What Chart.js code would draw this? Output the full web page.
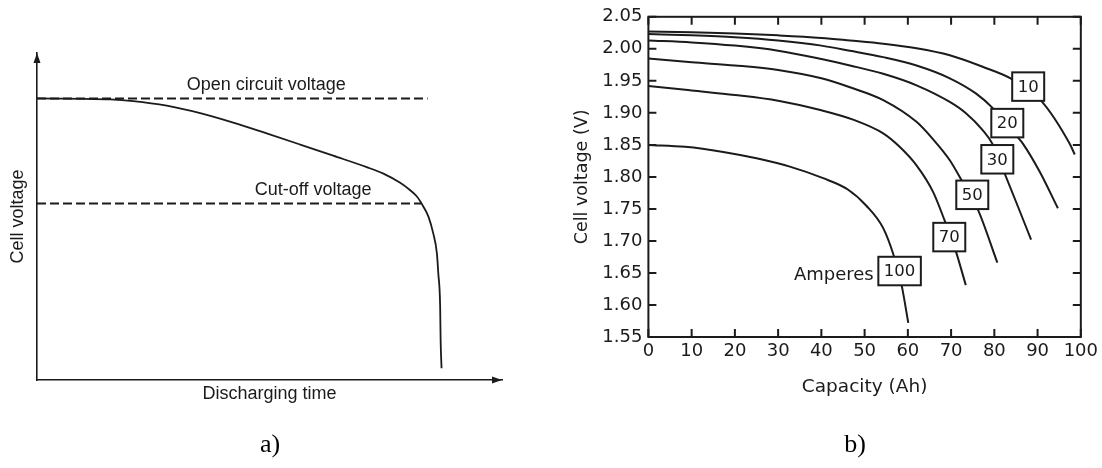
<!DOCTYPE html>
<html><head><meta charset="utf-8">
<script src="https://cdn.jsdelivr.net/npm/chart.js@4.4.1/dist/chart.umd.min.js"></script>
<style>
html,body{margin:0;padding:0;background:#fff;width:1102px;height:468px;overflow:hidden;}
#wa{position:absolute;left:0;top:0;width:540px;height:468px;}
#wb{position:absolute;left:545px;top:0;width:557px;height:468px;}
.cap{position:absolute;top:431px;font-family:"Liberation Serif","Times New Roman",serif;font-size:26px;line-height:1;color:#000;transform:translateX(-50%);}
</style></head><body>
<div id="wa"><canvas id="ca" width="540" height="468"></canvas></div>
<div id="wb"><canvas id="cb" width="557" height="468"></canvas></div>
<div class="cap" style="left:270px">a)</div>
<div class="cap" style="left:855px">b)</div>
<script>
// ---------- data: chart a) (arbitrary units) ----------
const timeA = [0, 15.7, 20.7, 27.9, 35.1, 42.2, 49.4, 56.6, 63.7, 70.9, 74.5, 78.1, 80.2, 81.7, 83.1, 84.2, 85.2, 86.0, 86.3, 86.7, 86.8, 87.0];
const voltA = [86.1, 85.8, 85.3, 83.9, 81.6, 78.7, 75.4, 72.0, 68.6, 65.1, 63.1, 60.3, 58.1, 56.1, 53.0, 49.9, 44.9, 38.7, 32.6, 22.4, 12.2, 3.6];
const ocvX = [0, 84.0], ocvY = [86.1, 86.1];
const cutX = [0, 82.7], cutY = [54.0, 54.0];
const notesA = ['Open circuit voltage', 'Cut-off voltage'];
const notesAX = [49.3, 59.4];
const notesAY = [88.7, 56.6];

// ---------- data: chart b) ----------
const capTicks = [0, 10, 20, 30, 40, 50, 60, 70, 80, 90, 100];
const voltTicks = [1.55, 1.60, 1.65, 1.70, 1.75, 1.80, 1.85, 1.90, 1.95, 2.00, 2.05];
const currents = ['10', '20', '30', '50', '70', '100'];
const cap10 = [0, 10, 20, 30, 40, 46.6, 54.3, 62.0, 69.7, 77.3, 84.3, 90.8, 97.4, 98.6];
const volt10 = [2.027, 2.026, 2.024, 2.021, 2.017, 2.013, 2.008, 2.001, 1.990, 1.972, 1.952, 1.919, 1.852, 1.835];
const cap20 = [0, 10, 20, 30, 40, 46.6, 54.3, 62.0, 69.7, 75.8, 79.7, 85.4, 86.6, 90.5, 94.7];
const volt20 = [2.023, 2.021, 2.018, 2.013, 2.005, 1.997, 1.987, 1.974, 1.954, 1.930, 1.907, 1.862, 1.852, 1.808, 1.751];
const cap30 = [0, 10, 20, 30, 40, 46.6, 54.3, 62.0, 69.7, 73.5, 77.3, 79.7, 82.4, 85.5, 88.5];
const volt30 = [2.013, 2.010, 2.005, 1.997, 1.984, 1.974, 1.961, 1.943, 1.917, 1.899, 1.873, 1.850, 1.805, 1.753, 1.702];
const cap50 = [0, 10, 20, 30, 40, 46.6, 54.3, 62.0, 65.8, 69.7, 72.4, 76.2, 80.7];
const volt50 = [1.985, 1.979, 1.974, 1.967, 1.954, 1.940, 1.920, 1.886, 1.859, 1.826, 1.795, 1.749, 1.666];
const cap70 = [0, 10, 20, 30, 40, 47.5, 54.3, 58.1, 62.0, 65.8, 68.5, 71.0, 73.4];
const volt70 = [1.942, 1.935, 1.928, 1.919, 1.904, 1.889, 1.868, 1.847, 1.818, 1.777, 1.732, 1.686, 1.631];
const cap100 = [0, 8.5, 17.3, 25.0, 32.7, 40.4, 46.2, 50.4, 54.3, 56.6, 58.5, 60.1];
const volt100 = [1.850, 1.847, 1.839, 1.829, 1.816, 1.798, 1.780, 1.755, 1.720, 1.680, 1.633, 1.572];
const boxCap = [87.83, 83.0, 80.69, 74.9, 69.58, 58.09];
const boxVolt = [1.941, 1.884, 1.8275, 1.772, 1.706, 1.653];
const unitText = 'Amperes';
const unitCap = 52.1, unitVolt = 1.639;

// ---------- rendering ----------
const INK = '#1b1b1b';
const FA = '"Liberation Sans", Arial, Helvetica, sans-serif';
const FB = '"DejaVu Sans", Verdana, sans-serif';
Chart.defaults.color = INK;
const zip = (xs, ys) => xs.map((v, i) => ({x: v, y: ys[i]}));

const decorA = {
  id: 'decorA',
  afterDraw(chart) {
    const {ctx, chartArea: a, scales: {x, y}} = chart;
    ctx.save();
    ctx.fillStyle = INK;
    ctx.beginPath();
    ctx.moveTo(a.left, a.top); ctx.lineTo(a.left - 3.5, a.top + 10); ctx.lineTo(a.left + 3.5, a.top + 10); ctx.closePath();
    ctx.fill();
    ctx.beginPath();
    ctx.moveTo(a.right, a.bottom); ctx.lineTo(a.right - 10, a.bottom - 3.5); ctx.lineTo(a.right - 10, a.bottom + 3.5); ctx.closePath();
    ctx.fill();
    ctx.font = '18px ' + FA;
    ctx.textAlign = 'center';
    ctx.textBaseline = 'alphabetic';
    notesA.forEach((t, i) => ctx.fillText(t, x.getPixelForValue(notesAX[i]), y.getPixelForValue(notesAY[i])));
    ctx.restore();
  }
};

new Chart(document.getElementById('ca'), {
  type: 'line',
  data: {datasets: [
    {data: zip(timeA, voltA), borderColor: INK, borderWidth: 1.8, pointRadius: 0, cubicInterpolationMode: 'monotone'},
    {data: zip(ocvX, ocvY), borderColor: INK, borderWidth: 2, borderDash: [9, 4], pointRadius: 0},
    {data: zip(cutX, cutY), borderColor: INK, borderWidth: 2, borderDash: [9, 4], pointRadius: 0}
  ]},
  options: {
    responsive: false, animation: false, events: [],
    layout: {padding: {left: 3, top: 53, right: 38, bottom: 59.2}},
    plugins: {legend: {display: false}, tooltip: {enabled: false}},
    scales: {
      x: {type: 'linear', min: 0, max: 100,
        grid: {display: false, drawTicks: false}, ticks: {display: false},
        border: {display: true, color: INK, width: 1.6},
        title: {display: true, text: 'Discharging time', color: INK, font: {family: FA, size: 18}, padding: {top: 0, bottom: 4}},
        afterFit(s) { s.height = 28.8; }},
      y: {type: 'linear', min: 0, max: 100,
        grid: {display: false, drawTicks: false}, ticks: {display: false},
        border: {display: true, color: INK, width: 1.6},
        title: {display: true, text: 'Cell voltage', color: INK, font: {family: FA, size: 18}, padding: {top: 4, bottom: 0}},
        afterFit(s) { s.width = 34; }}
    }
  },
  plugins: [decorA]
});

const TL = 8;
const decorB = {
  id: 'decorB',
  afterDraw(chart) {
    const {ctx, chartArea: a, scales: {x, y}} = chart;
    ctx.save();
    ctx.strokeStyle = INK; ctx.lineWidth = 2;
    ctx.strokeRect(a.left, a.top, a.right - a.left, a.bottom - a.top);
    ctx.beginPath();
    x.ticks.forEach(t => {
      const px = x.getPixelForValue(t.value);
      ctx.moveTo(px, a.bottom); ctx.lineTo(px, a.bottom - TL);
      ctx.moveTo(px, a.top); ctx.lineTo(px, a.top + TL);
    });
    y.ticks.forEach(t => {
      const py = y.getPixelForValue(t.value);
      ctx.moveTo(a.left, py); ctx.lineTo(a.left + TL, py);
      ctx.moveTo(a.right, py); ctx.lineTo(a.right - TL, py);
    });
    ctx.stroke();
    ctx.font = '16.5px ' + FB;
    ctx.textAlign = 'center';
    ctx.textBaseline = 'middle';
    currents.forEach((c, i) => {
      const cx = x.getPixelForValue(boxCap[i]), cy = y.getPixelForValue(boxVolt[i]);
      const w = ctx.measureText(c).width + 11, h = 28.5;
      ctx.fillStyle = '#fff';
      ctx.fillRect(cx - w / 2, cy - h / 2, w, h);
      ctx.strokeRect(cx - w / 2, cy - h / 2, w, h);
      ctx.fillStyle = INK;
      ctx.fillText(c, cx, cy + 1);
    });
    ctx.font = '18px ' + FB;
    ctx.textAlign = 'right';
    ctx.textBaseline = 'alphabetic';
    ctx.fillText(unitText, x.getPixelForValue(unitCap), y.getPixelForValue(unitVolt));
    ctx.restore();
  }
};

const seriesB = [[cap10, volt10], [cap20, volt20], [cap30, volt30], [cap50, volt50], [cap70, volt70], [cap100, volt100]];

new Chart(document.getElementById('cb'), {
  type: 'line',
  data: {datasets: seriesB.map((s, i) => ({
    label: currents[i], data: zip(s[0], s[1]), borderColor: INK, borderWidth: 2,
    pointRadius: 0, cubicInterpolationMode: 'monotone'
  }))},
  options: {
    responsive: false, animation: false, events: [],
    layout: {padding: {left: 22.5, top: 16.5, right: 20.6, bottom: 65.9}},
    plugins: {legend: {display: false}, tooltip: {enabled: false}},
    scales: {
      x: {type: 'linear', min: 0, max: 100,
        afterBuildTicks(s) { s.ticks = capTicks.map(v => ({value: v})); },
        grid: {display: false, drawTicks: false}, border: {display: false},
        ticks: {color: INK, font: {family: FB, size: 18}, padding: 4, maxRotation: 0, autoSkip: false},
        title: {display: true, text: 'Capacity (Ah)', color: INK, font: {family: FB, size: 18.5}, padding: {top: 0, bottom: 4}},
        afterFit(s) { s.height = 65.1; }},
      y: {type: 'linear', min: 1.55, max: 2.05,
        afterBuildTicks(s) { s.ticks = voltTicks.map(v => ({value: v})); },
        grid: {display: false, drawTicks: false}, border: {display: false},
        ticks: {color: INK, font: {family: FB, size: 18}, padding: 6, autoSkip: false, callback: v => Number(v).toFixed(2)},
        title: {display: true, text: 'Cell voltage (V)', color: INK, font: {family: FB, size: 17.5}, padding: {top: 4, bottom: 0}},
        afterFit(s) { s.width = 80.9; }}
    }
  },
  plugins: [decorB]
});
</script>
</body></html>
